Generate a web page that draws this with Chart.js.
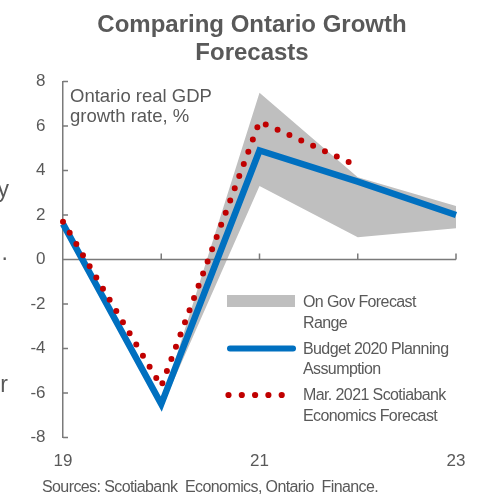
<!DOCTYPE html>
<html>
<head>
<meta charset="utf-8">
<script src="https://cdn.jsdelivr.net/npm/chart.js@4/dist/chart.umd.min.js"></script>
<style>
  html, body { margin: 0; padding: 0; background: #ffffff; }
  #c { display: block; }
</style>
</head>
<body>
<canvas id="c" width="482" height="498"></canvas>
<script>
// Ontario real GDP growth, % (calendar years 2019-2023)
const years = ['19', '20', '21', '22', '23'];
const shownYears = ['19', '21', '23'];
const budget2020 = [1.6, -6.5, 4.9, 3.5, 2.0];
const scotiaMar2021 = [1.7, -5.7, 6.2, 4.2, null];
const govRangeLow = [1.6, -6.7, 3.3, 1.0, 1.4];
const govRangeHigh = [1.7, -6.5, 7.5, 3.7, 2.4];
const yTicks = [-8, -6, -4, -2, 0, 2, 4, 6, 8];

const FONT = '"Liberation Sans", Arial, sans-serif';
const TEXT = '#595959';
const AXIS = '#7a7a7a';
const GREY = '#bfbfbf';
const BLUE = '#0070c0';
const RED = '#c00000';

function drawText(ctx, str, x, y, size, opts = {}) {
  ctx.save();
  ctx.font = (opts.bold ? 'bold ' : '') + size + 'px ' + FONT;
  ctx.fillStyle = opts.color || TEXT;
  ctx.textAlign = opts.align || 'left';
  ctx.textBaseline = opts.baseline || 'middle';
  ctx.letterSpacing = (opts.spacing || 0) + 'px';
  ctx.fillText(str, x, y);
  ctx.restore();
}

// zero line with upward category ticks, and inward ticks on the value axis
const innerAxes = {
  id: 'innerAxes',
  afterDatasetDraw(chart, args) {
    if (args.index !== 1) return;
    const { ctx, scales: { x, y } } = chart;
    const y0 = y.getPixelForValue(0);
    ctx.save();
    ctx.strokeStyle = AXIS;
    ctx.lineWidth = 1.5;
    ctx.beginPath();
    ctx.moveTo(x.getPixelForValue(0), y0);
    ctx.lineTo(x.getPixelForValue(years.length - 1), y0);
    for (let i = 1; i < years.length; i++) {
      const px = x.getPixelForValue(i);
      ctx.moveTo(px, y0);
      ctx.lineTo(px, y0 - 6);
    }
    const ax = y.right;
    yTicks.forEach(v => {
      const py = y.getPixelForValue(v);
      ctx.moveTo(ax, py);
      ctx.lineTo(ax + 5, py);
    });
    ctx.stroke();
    ctx.restore();
  }
};

// title, axis note, legend and source line
const overlay = {
  id: 'overlay',
  afterDraw(chart) {
    const ctx = chart.ctx;
    drawText(ctx, 'Comparing Ontario Growth', 252, 25, 24, { bold: true, align: 'center' });
    drawText(ctx, 'Forecasts', 252, 53, 24, { bold: true, align: 'center' });

    drawText(ctx, 'Ontario real GDP', 70, 97, 18.5);
    drawText(ctx, 'growth rate, %', 70, 117, 18.5);

    // legend
    ctx.save();
    ctx.fillStyle = GREY;
    ctx.fillRect(227, 295, 68, 12);
    ctx.strokeStyle = BLUE;
    ctx.lineWidth = 6;
    ctx.lineCap = 'round';
    ctx.beginPath();
    ctx.moveTo(230, 348.5);
    ctx.lineTo(293, 348.5);
    ctx.stroke();
    ctx.fillStyle = RED;
    [228.5, 241.8, 255.1, 268.4, 281.7].forEach(cx => {
      ctx.beginPath();
      ctx.arc(cx, 395, 3.1, 0, Math.PI * 2);
      ctx.fill();
    });
    ctx.restore();
    const ls = -0.6;
    drawText(ctx, 'On Gov Forecast', 303, 303, 16, { spacing: ls });
    drawText(ctx, 'Range', 303, 323.5, 16, { spacing: ls });
    drawText(ctx, 'Budget 2020 Planning', 303, 349.5, 16, { spacing: ls });
    drawText(ctx, 'Assumption', 303, 370, 16, { spacing: ls });
    drawText(ctx, 'Mar. 2021 Scotiabank', 303, 396, 16, { spacing: ls });
    drawText(ctx, 'Economics Forecast', 303, 417, 16, { spacing: ls });

    drawText(ctx, 'Sources: Scotiabank  Economics, Ontario  Finance.', 42, 488, 16, { spacing: ls });

    // ends of the neighbouring column's text
    drawText(ctx, 'y', 9, 197, 23, { align: 'right', baseline: 'alphabetic' });
    drawText(ctx, '.', 8, 260, 23, { align: 'right', baseline: 'alphabetic' });
    drawText(ctx, 'r', 8, 392, 23, { align: 'right', baseline: 'alphabetic' });
  }
};

new Chart(document.getElementById('c'), {
  type: 'line',
  data: {
    labels: years,
    datasets: [
      {
        label: 'On Gov Forecast Range (low)',
        data: govRangeLow,
        borderWidth: 0,
        borderColor: 'rgba(0,0,0,0)',
        pointRadius: 0,
        fill: false,
        tension: 0,
        order: 4,
        clip: false
      },
      {
        label: 'On Gov Forecast Range',
        data: govRangeHigh,
        borderWidth: 0,
        borderColor: 'rgba(0,0,0,0)',
        backgroundColor: GREY,
        pointRadius: 0,
        fill: 0,
        tension: 0,
        order: 3,
        clip: false
      },
      {
        label: 'Budget 2020 Planning Assumption',
        data: budget2020,
        borderColor: BLUE,
        borderWidth: 6.5,
        pointRadius: 0,
        fill: false,
        tension: 0,
        order: 1,
        clip: false
      },
      {
        label: 'Mar. 2021 Scotiabank Economics Forecast',
        data: scotiaMar2021,
        borderColor: RED,
        borderWidth: 6,
        borderDash: [0, 13],
        borderCapStyle: 'round',
        pointRadius: 0,
        fill: false,
        tension: 0,
        spanGaps: false,
        order: 0,
        clip: false
      }
    ]
  },
  options: {
    responsive: false,
    devicePixelRatio: 1,
    animation: false,
    events: [],
    layout: { padding: { top: 81.5, right: 26, left: 0, bottom: 0 } },
    plugins: {
      legend: { display: false },
      title: { display: false },
      tooltip: { enabled: false }
    },
    scales: {
      x: {
        type: 'category',
        offset: false,
        grid: { display: false, drawTicks: false },
        border: { display: false },
        ticks: {
          color: TEXT,
          font: { family: FONT, size: 17 },
          padding: 14,
          maxRotation: 0,
          autoSkip: false,
          callback(value) {
            const lab = this.getLabelForValue(value);
            return shownYears.includes(lab) ? lab : '';
          }
        },
        afterFit(scale) { scale.height = 60.5; }
      },
      y: {
        min: -8,
        max: 8,
        grid: { display: false, drawTicks: false },
        border: { display: true, color: AXIS, width: 1.5 },
        ticks: {
          stepSize: 2,
          color: TEXT,
          font: { family: FONT, size: 17 },
          padding: 17.5
        },
        afterFit(scale) { scale.width = 63; }
      }
    }
  },
  plugins: [innerAxes, overlay]
});
</script>
</body>
</html>
